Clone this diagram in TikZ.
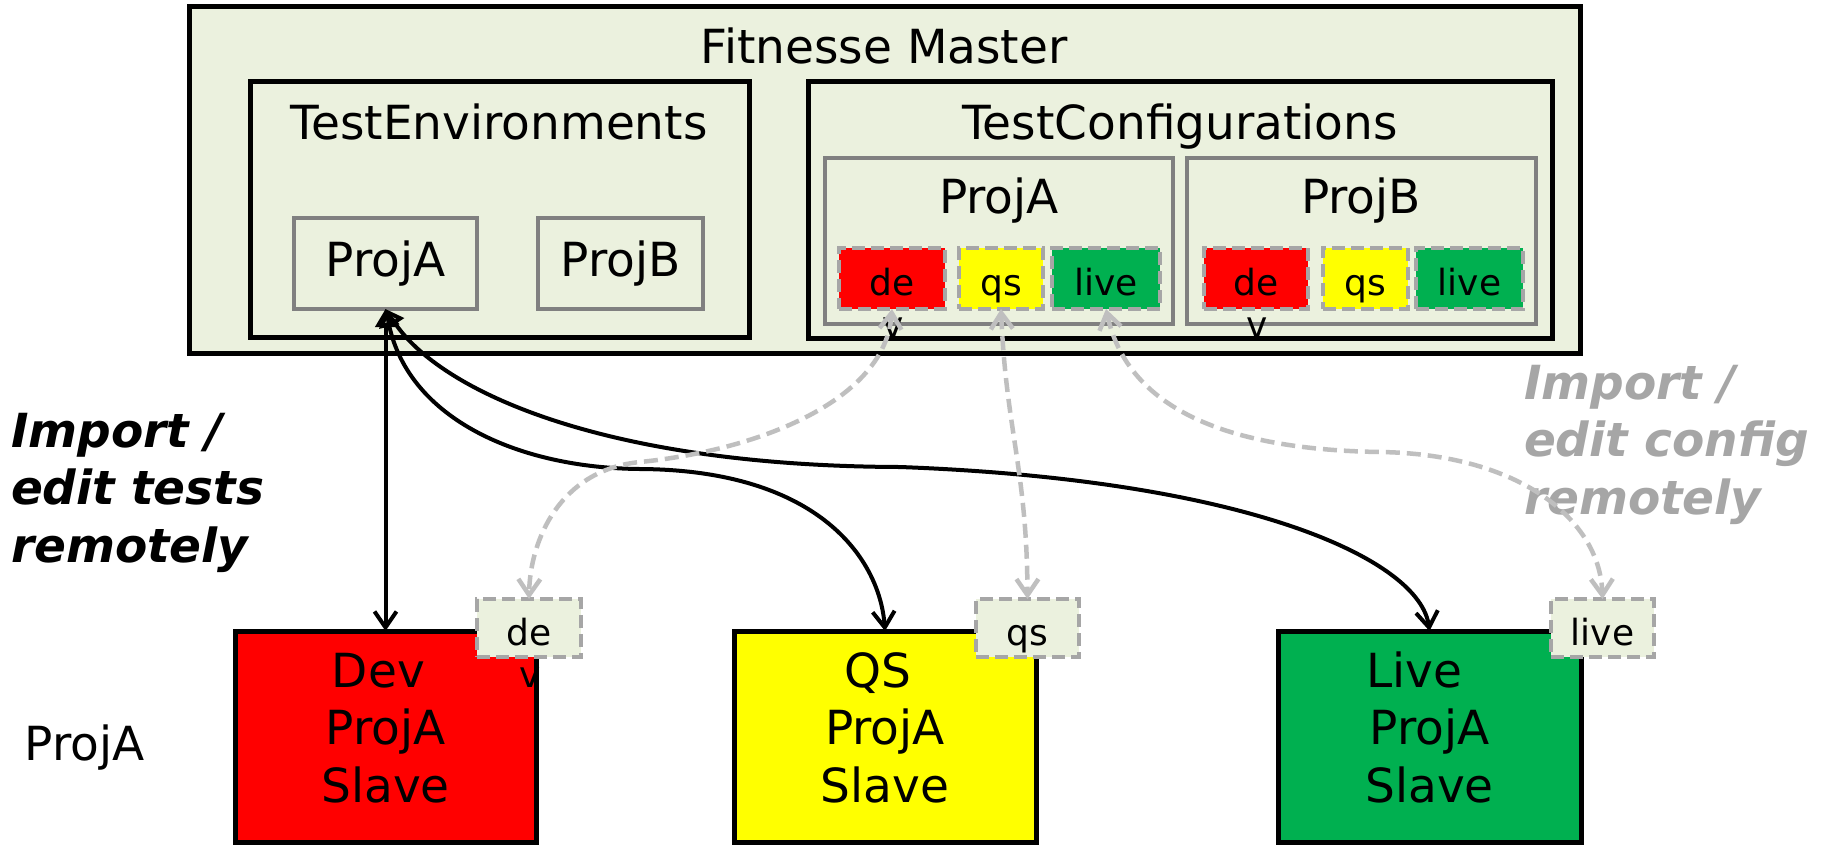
\documentclass[tikz,border=0pt]{standalone}
\usepackage{fontspec}
\setmainfont{DejaVu Sans}
\usetikzlibrary{arrows.meta}
\definecolor{bgc}{HTML}{EBF1DE}
\definecolor{redc}{HTML}{FF0000}
\definecolor{yelc}{HTML}{FFFF00}
\definecolor{grnc}{HTML}{00B050}
\definecolor{gbord}{HTML}{808080}
\definecolor{dbord}{HTML}{A6A6A6}
\definecolor{dline}{HTML}{BFBFBF}
\definecolor{gtext}{HTML}{A6A6A6}
\newcommand\fbig{\fontsize{47}{57.5}\selectfont}
\newcommand\fsm{\fontsize{36}{43}\selectfont}
\begin{document}
\begin{tikzpicture}[x=1pt,y=-1pt,
  box/.style={draw=black, line width=5pt, fill=bgc, inner sep=0pt, outer sep=0pt, anchor=north west},
  gbox/.style={draw=gbord, line width=4.8pt, fill=bgc, inner sep=0pt, outer sep=0pt, anchor=north west, font=\fbig, text height=36pt, text depth=11pt},
  tagbox/.style={draw=dbord, line width=4.5pt, dash pattern=on 13pt off 6pt, inner sep=0pt, outer sep=0pt, anchor=north west, font=\fsm, text height=40pt, text depth=6pt},
  slavebox/.style={draw=black, line width=5pt, inner sep=0pt, outer sep=0pt, anchor=north west},
  lbl/.style={anchor=base, inner sep=0pt, outer sep=0pt, font=\fbig},
  vmark/.style={anchor=base, inner sep=0pt, outer sep=0pt, font=\fsm},
  conn/.style={draw=black, line width=4pt, {Triangle[open,length=18pt,width=20pt]}-{Straight Barb[length=16pt,width=22pt]}},
  dconn/.style={draw=dline, line width=4.5pt, dash pattern=on 14pt off 7pt, {Straight Barb[length=16pt,width=22pt]}-{Straight Barb[length=16pt,width=22pt]}},
]
\fill[white] (0,0) rectangle (1826,844);
\useasboundingbox (0,0) rectangle (1826,844);

% master
\node[box, minimum width=1391pt, minimum height=347pt] (master) at (189,6.5) {};
\node[lbl] (tMaster) at (884,63) {Fitnesse Master};
\node[box, minimum width=499pt, minimum height=256.5pt] (env) at (250,81) {};
\node[lbl] (tEnv) at (499,139) {TestEnvironments};
\node[box, minimum width=744pt, minimum height=257pt] (cfg) at (808,81) {};
\node[lbl] (tCfg) at (1180,139) {TestConfigurations};

\node[gbox, minimum width=183pt, minimum height=91pt] (envA) at (294,218) {ProjA};
\node[gbox, minimum width=165pt, minimum height=91pt] (envB) at (538,218) {ProjB};

\node[gbox, minimum width=348pt, minimum height=166pt] (cfgA) at (825,158) {};
\node[lbl] (tCfgA) at (999,213) {ProjA};
\node[gbox, minimum width=349pt, minimum height=166pt] (cfgB) at (1187,158) {};
\node[lbl] (tCfgB) at (1361,213) {ProjB};

\node[vmark] (vA) at (893,337) {v};
\node[vmark] (vB) at (1257,337) {v};

\node[tagbox, fill=redc, minimum width=106pt, minimum height=61pt] (aDe) at (839,248) {de};
\node[tagbox, fill=yelc, minimum width=84pt, minimum height=61pt] (aQs) at (959,248) {qs};
\node[tagbox, fill=grnc, minimum width=108pt, minimum height=61pt] (aLive) at (1052,248) {live};
\node[tagbox, fill=redc, minimum width=104pt, minimum height=61pt] (bDe) at (1204,248) {de};
\node[tagbox, fill=yelc, minimum width=85pt, minimum height=61pt] (bQs) at (1323,248) {qs};
\node[tagbox, fill=grnc, minimum width=107pt, minimum height=61pt] (bLive) at (1416,248) {live};

% slaves
\node[slavebox, fill=redc, minimum width=301pt, minimum height=211pt] (dev) at (235,631) {};
\node[slavebox, fill=yelc, minimum width=302pt, minimum height=211pt] (qsS) at (734,631) {};
\node[slavebox, fill=grnc, minimum width=303pt, minimum height=211pt] (liveS) at (1278,631) {};
\node[lbl, align=center] (tDev) at (385.5,802) {Dev\kern0.3em\\ProjA\\Slave};
\node[lbl, align=center] (tQs) at (885,802) {QS\kern0.32em\\ProjA\\Slave};
\node[lbl, align=center] (tLive) at (1429.5,802) {Live\kern0.64em\\ProjA\\Slave};
\node[vmark] (vD) at (530,687) {v};

\node[tagbox, fill=bgc, minimum width=104pt, minimum height=58pt] (devTag) at (477,599) {de};
\node[tagbox, fill=bgc, minimum width=103pt, minimum height=58pt] (qsTag) at (976,599) {qs};
\node[tagbox, fill=bgc, minimum width=103pt, minimum height=58pt] (liveTag) at (1551,599) {live};

% side texts
\node[lbl, anchor=base west] (tProjA) at (24.5,760) {ProjA};
\node[lbl, anchor=base west, align=left, font=\fbig\bfseries\itshape] (tImpT) at (11,562) {Import /\\edit tests\\remotely};
\node[lbl, anchor=base west, align=left, font=\fbig\bfseries\itshape, text=gtext] (tImpC) at (1524,514) {Import /\\edit config\\remotely};

% black connectors
\draw[conn] (envA.south) -- (dev.north);
\draw[conn] (envA.south) .. controls (410,420) and (520,468) .. (640,469) .. controls (820,470) and (880,560) .. (qsS.north);
\draw[conn] (envA.south) .. controls (440,390) and (600,466) .. (900,467) .. controls (1250,480) and (1420,560) .. (liveS.north);

% gray dashed connectors
\draw[dconn] (aDe.south) .. controls (885,400) and (760,450) .. (640,462) .. controls (560,470) and (530,540) .. (devTag.north);
\draw[dconn] (aQs.south) .. controls (1006,430) and (1027,470) .. (qsTag.north);
\draw[dconn] (aLive.south) .. controls (1130,420) and (1250,450) .. (1380,452) .. controls (1520,454) and (1600,520) .. (liveTag.north);
\end{tikzpicture}
\end{document}
